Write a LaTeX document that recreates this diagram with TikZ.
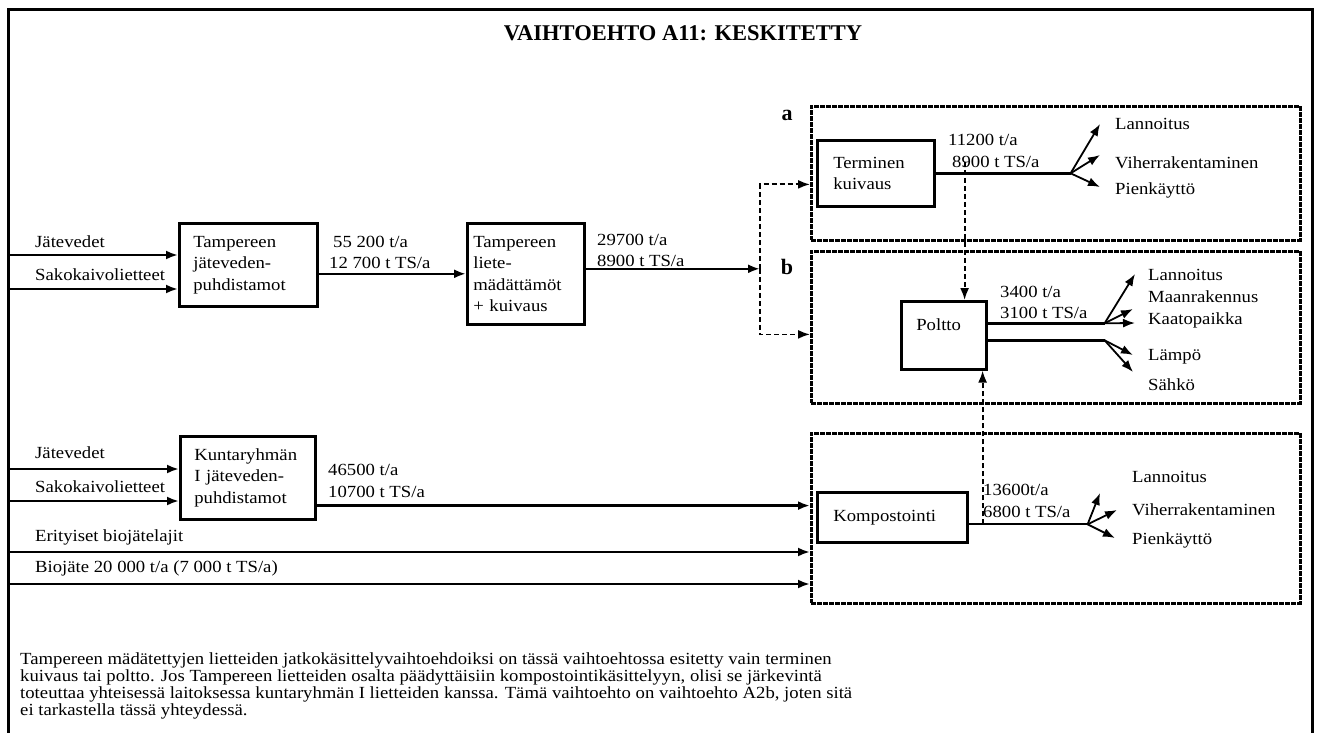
\documentclass[tikz,border=0pt]{standalone}
\usepackage{fontspec}
\setmainfont{Liberation Serif}[FakeStretch=1.1]
\newfontfamily\titlefont{Liberation Serif}
\usetikzlibrary{arrows.meta,positioning}

\begin{document}
\begin{tikzpicture}[x=1pt, y=-1pt,
    every node/.style={font=\fontsize{17}{21.5}\selectfont},
    box/.style={draw, line width=2.6pt, anchor=north west, align=left, inner xsep=14pt, inner ysep=4pt},
    area/.style={draw, line width=2.8pt, dash pattern=on 5pt off 1pt, anchor=north west, minimum width=489pt},
    letter/.style={font=\titlefont\fontsize{22}{26}\selectfont\bfseries},
    lbl/.style={anchor=west, inner sep=0pt},
    flow/.style={line width=2.4pt},
    arrow/.style={flow, -{Latex[length=12pt,width=9pt]}},
    choice/.style={arrow, line width=1.8pt, dash pattern=on 5pt off 3pt},
    branch/.style={arrow, line width=1.8pt}
  ]
    \useasboundingbox (0,0) rectangle (1318,733);
    \node[draw, line width=3pt, anchor=north west, minimum width=1304pt, minimum height=760pt] (page) at (7,8) {};
    \node[font=\titlefont\fontsize{22.5}{26}\selectfont\bfseries] (title) at (683,33) {VAIHTOEHTO A11: KESKITETTY};

    \node[area, minimum height=134pt] (areaA) at (810,105) {};
    \node[area, minimum height=152pt] (areaB) at (810,250) {};
    \node[area, minimum height=170pt] (areaC) at (810,432) {};
    \node[letter] (la) at (787,115) {a};
    \node[letter] (lb) at (787,267) {b};

    \node[box, text width=110pt, minimum height=83pt] (tpuhd) at (178,222) {Tampereen\\jäteveden-\\puhdistamot};
    \node[box, text width=105pt, inner xsep=6pt, minimum height=101pt] (tliete) at (466,222) {Tampereen\\liete-\\mädättämöt\\+ kuivaus};
    \node[box, text width=85pt, inner xsep=16pt, minimum height=66pt] (term) at (816,139) {Terminen\\kuivaus};
    \node[box, text width=55pt, inner xsep=15pt, minimum height=68pt] (poltto) at (900,300) {Poltto\\\mbox{}};
    \node[box, text width=107pt, minimum height=83pt] (kpuhd) at (179,435) {Kuntaryhmän\\I jäteveden-\\puhdistamot};
    \node[box, text width=118pt, inner xsep=16pt, minimum height=50pt] (komp) at (816,491) {Kompostointi};

    \node[lbl] (jv1) at (35,242) {Jätevedet};
    \node[lbl] (sk1) at (35,275) {Sakokaivolietteet};
    \node[lbl] (jv2) at (35,453) {Jätevedet};
    \node[lbl] (sk2) at (35,487) {Sakokaivolietteet};
    \node[lbl] (erit) at (35,537) {Erityiset biojätelajit};
    \node[lbl] (bio) at (35,568) {Biojäte 20 000 t/a (7 000 t TS/a)};

    \node[lbl] (q1a) at (333,242) {55 200 t/a};
    \node[lbl] (q1b) at (329,263) {12 700 t TS/a};
    \node[lbl] (q2a) at (597,240) {29700 t/a};
    \node[lbl] (q2b) at (597,261) {8900 t TS/a};
    \node[lbl] (qa1) at (948,140) {11200 t/a};
    \node[lbl] (qa2) at (952,162) {8900 t TS/a};
    \node[lbl] (qb1) at (1000,292) {3400 t/a};
    \node[lbl] (qb2) at (1000,313) {3100 t TS/a};
    \node[lbl] (qk1) at (328,470) {46500 t/a};
    \node[lbl] (qk2) at (328,492) {10700 t TS/a};
    \node[lbl] (qc1) at (983,490) {13600t/a};
    \node[lbl] (qc2) at (983,512) {6800 t TS/a};

    \node[lbl] (a1) at (1115,124) {Lannoitus};
    \node[lbl] (a2) at (1115,163) {Viherrakentaminen};
    \node[lbl] (a3) at (1115,190) {Pienkäyttö};
    \node[lbl] (b1) at (1148,275) {Lannoitus};
    \node[lbl] (b2) at (1148,297) {Maanrakennus};
    \node[lbl] (b3) at (1148,320) {Kaatopaikka};
    \node[lbl] (b4) at (1148,357) {Lämpö};
    \node[lbl] (b5) at (1148,385) {Sähkö};
    \node[lbl] (c1) at (1132,477) {Lannoitus};
    \node[lbl] (c2) at (1132,510) {Viherrakentaminen};
    \node[lbl] (c3) at (1132,540) {Pienkäyttö};

    \coordinate (in1) at ([yshift=-13pt]jv1.west);
    \coordinate (in2) at ([yshift=-14pt]sk1.west);
    \coordinate (in3) at ([yshift=-16pt]jv2.west);
    \coordinate (in4) at ([yshift=-14pt]sk2.west);
    \coordinate (in5) at ([yshift=-15pt]erit.west);
    \coordinate (in6) at ([yshift=-16pt]bio.west);
    \draw[arrow] (in1 -| page.west) -- (in1 -| tpuhd.west);
    \draw[arrow] (in2 -| page.west) -- (in2 -| tpuhd.west);
    \draw[arrow] (in3 -| page.west) -- (in3 -| kpuhd.west);
    \draw[arrow] (in4 -| page.west) -- (in4 -| kpuhd.west);
    \draw[arrow] (in5 -| page.west) -- (in5 -| areaC.west);
    \draw[arrow] (in6 -| page.west) -- (in6 -| areaC.west);

    \coordinate (t1) at ([yshift=-9pt]tpuhd.east);
    \draw[arrow] (t1) -- (t1 -| tliete.west);
    \coordinate (t2) at ([yshift=5pt]tliete.east);
    \coordinate (split) at (760,0);
    \coordinate (toA) at ([yshift=-11pt]areaA.west);
    \coordinate (toB) at ([yshift=-7pt]areaB.west);
    \draw[arrow] (t2) -- (t2 -| split);
    \draw[choice] (t2 -| split) |- (toA);
    \draw[choice] (t2 -| split) |- (toB);

    \coordinate (k1) at ([yshift=15pt]kpuhd.south east);
    \draw[arrow] (k1) -- (k1 -| areaC.west);

    \coordinate[right=135pt of term.east] (fanA);
    \coordinate (a1tip) at ([xshift=-15pt]a1.west);
    \coordinate (a2tip) at ([xshift=-15pt, yshift=8pt]a2.west);
    \coordinate (a3tip) at ([xshift=-15pt, yshift=3pt]a3.west);
    \draw[flow, line width=3pt] (term.east) -- (fanA);
    \draw[branch] (fanA) -- (a1tip);
    \draw[branch] (fanA) -- (a2tip);
    \draw[branch] (fanA) -- (a3tip);

    \coordinate (p1) at ([yshift=12pt]poltto.east);
    \coordinate (p2) at ([yshift=-5pt]poltto.east);
    \coordinate[right=117pt of p1] (fanB1);
    \coordinate[right=117pt of p2] (fanB2);
    \coordinate (b1tip) at ([xshift=-13pt, yshift=1pt]b1.west);
    \coordinate (b2tip) at ([xshift=-15pt, yshift=-12pt]b2.west);
    \coordinate (b3tip) at ([xshift=-13pt, yshift=-3pt]b3.west);
    \coordinate (b4tip) at ([xshift=-15pt, yshift=2pt]b4.west);
    \coordinate (b5tip) at ([xshift=-15pt, yshift=13pt]b5.west);
    \draw[flow, line width=2.6pt] (p1) -- (fanB1);
    \draw[flow, line width=2.6pt] (p2) -- (fanB2);
    \draw[branch] (fanB1) -- (b1tip);
    \draw[branch] (fanB1) -- (b2tip);
    \draw[branch] (fanB1) -- (b3tip);
    \draw[branch] (fanB2) -- (b4tip);
    \draw[branch] (fanB2) -- (b5tip);

    \coordinate (k2) at ([yshift=-7pt]komp.east);
    \coordinate[right=119pt of k2] (fanC);
    \coordinate (c1tip) at ([xshift=-32pt, yshift=-16pt]c1.west);
    \coordinate (c2tip) at ([xshift=-15pt]c2.west);
    \coordinate (c3tip) at ([xshift=-17pt, yshift=2pt]c3.west);
    \draw[flow, line width=2pt] (k2) -- (fanC);
    \draw[branch] (fanC) -- (c1tip);
    \draw[branch] (fanC) -- (c2tip);
    \draw[branch] (fanC) -- (c3tip);

    \coordinate (pin) at ([xshift=-23pt]poltto.north east);
    \draw[choice] (pin |- qa2) -- (pin);
    \coordinate (pup) at ([xshift=-5pt]poltto.south east);
    \draw[choice] (pup |- fanC) -- (pup);

    \node[anchor=north west, align=left, inner sep=0pt, font=\fontsize{17}{17}\selectfont] (note) at (20,652) {Tampereen mädätettyjen lietteiden jatkokäsittelyvaihtoehdoiksi on tässä vaihtoehtossa esitetty vain terminen\\kuivaus tai poltto. Jos Tampereen lietteiden osalta päädyttäisiin kompostointikäsittelyyn, olisi se järkevintä\\toteuttaa yhteisessä laitoksessa kuntaryhmän I lietteiden kanssa. Tämä vaihtoehto on vaihtoehto A2b, joten sitä\\ei tarkastella tässä yhteydessä.};
  \end{tikzpicture}
\end{document}
